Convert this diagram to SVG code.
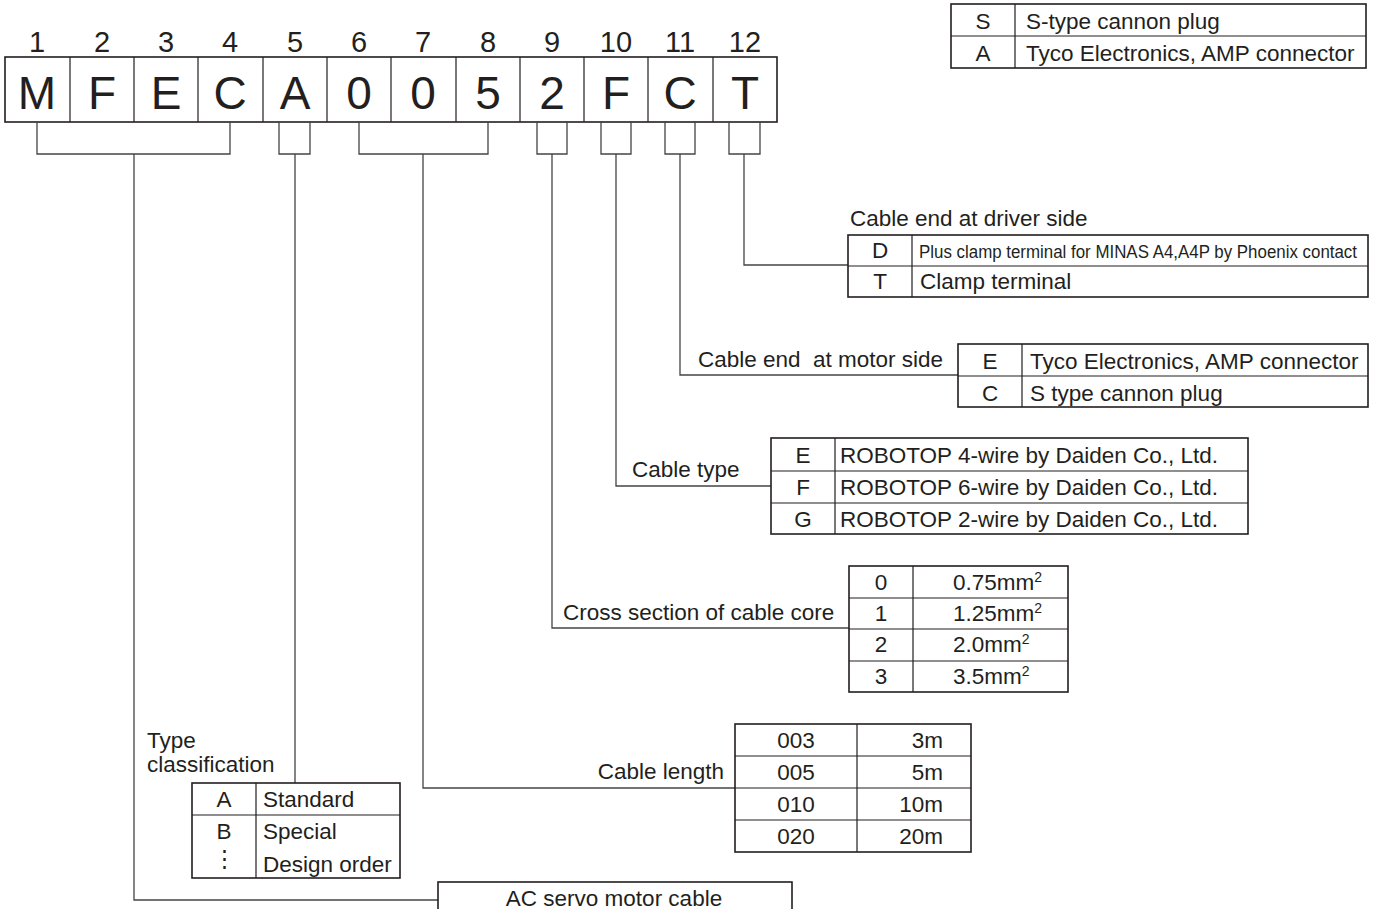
<svg xmlns="http://www.w3.org/2000/svg" width="1379" height="909" viewBox="0 0 1379 909">
<style>
text{font-family:"Liberation Sans",Arial,sans-serif;fill:#231f20}
.num{font-size:29px;text-anchor:middle}
.big{font-size:46px;text-anchor:middle}
.t{font-size:22.5px}
.c{text-anchor:middle}
.e{text-anchor:end}
.box{fill:#fff;stroke:#231f20;stroke-width:1.6}
.ln{fill:none;stroke:#231f20;stroke-width:1.2}
.cn{fill:none;stroke:#444;stroke-width:1.3}
</style>
<rect width="1379" height="909" fill="#fff"/>

<g id="code">
<rect class="box" x="5" y="57" width="772" height="65"/>
<path class="ln" d="M70 57V122M134 57V122M198 57V122M263 57V122M327 57V122M391 57V122M456 57V122M520 57V122M584 57V122M648 57V122M713 57V122"/>
<g class="num">
<text x="37" y="52">1</text><text x="102" y="52">2</text><text x="166" y="52">3</text><text x="230" y="52">4</text>
<text x="295" y="52">5</text><text x="359" y="52">6</text><text x="423" y="52">7</text><text x="488" y="52">8</text>
<text x="552" y="52">9</text><text x="616" y="52">10</text><text x="680" y="52">11</text><text x="745" y="52">12</text>
</g>
<g class="big">
<text x="37" y="109">M</text><text x="102" y="109">F</text><text x="166" y="109">E</text><text x="230" y="109">C</text>
<text x="295" y="109">A</text><text x="359" y="109">0</text><text x="423" y="109">0</text><text x="488" y="109">5</text>
<text x="552" y="109">2</text><text x="616" y="109">F</text><text x="680" y="109">C</text><text x="745" y="109">T</text>
</g>
</g>

<g id="connectors">
<path class="cn" d="M37 122V154H230V122M134 154V900H438"/>
<path class="cn" d="M279 122V154H310V122M295 154V783"/>
<path class="cn" d="M359 122V154H488V122M423 154V788H735"/>
<path class="cn" d="M537 122V154H567V122M552 154V628H849"/>
<path class="cn" d="M601 122V154H631V122M616 154V486H771"/>
<path class="cn" d="M665 122V154H695V122M680 154V375H958"/>
<path class="cn" d="M729 122V154H760V122M744 154V265H848"/>
</g>

<g id="connector-table">
<rect class="box" x="951" y="4" width="415" height="64"/>
<path class="ln" d="M951 36H1366M1015 4V68"/>
<text class="t c" x="983" y="29">S</text><text class="t" x="1026" y="29">S-type cannon plug</text>
<text class="t c" x="983" y="61">A</text><text class="t" x="1026" y="61">Tyco Electronics, AMP connector</text>
</g>

<g id="driver-side">
<text class="t" x="850" y="226">Cable end at driver side</text>
<rect class="box" x="848" y="235" width="520" height="62"/>
<path class="ln" d="M848 266H1368M912 235V297"/>
<text class="t c" x="880" y="258">D</text>
<text x="919" y="258" font-size="17.5" textLength="438" lengthAdjust="spacingAndGlyphs">Plus clamp terminal for MINAS A4,A4P by Phoenix contact</text>
<text class="t c" x="880" y="289">T</text><text class="t" x="920" y="289">Clamp terminal</text>
</g>

<g id="motor-side">
<text class="t" x="698" y="367" xml:space="preserve">Cable end  at motor side</text>
<rect class="box" x="958" y="344" width="410" height="63"/>
<path class="ln" d="M958 376H1368M1022 344V407"/>
<text class="t c" x="990" y="369">E</text><text class="t" x="1030" y="369">Tyco Electronics, AMP connector</text>
<text class="t c" x="990" y="401">C</text><text class="t" x="1030" y="401">S type cannon plug</text>
</g>

<g id="cable-type">
<text class="t" x="632" y="477">Cable type</text>
<rect class="box" x="771" y="438" width="477" height="96"/>
<path class="ln" d="M771 471H1248M771 503H1248M835 438V534"/>
<text class="t c" x="803" y="463">E</text><text class="t" x="840" y="463">ROBOTOP 4-wire by Daiden Co., Ltd.</text>
<text class="t c" x="803" y="495">F</text><text class="t" x="840" y="495">ROBOTOP 6-wire by Daiden Co., Ltd.</text>
<text class="t c" x="803" y="527">G</text><text class="t" x="840" y="527">ROBOTOP 2-wire by Daiden Co., Ltd.</text>
</g>

<g id="cross-section">
<text class="t" x="563" y="620">Cross section of cable core</text>
<rect class="box" x="849" y="566" width="219" height="126"/>
<path class="ln" d="M849 598H1068M849 629H1068M849 661H1068M913 566V692"/>
<text class="t c" x="881" y="590">0</text><text class="t" x="953" y="590">0.75mm<tspan font-size="14" dy="-8">2</tspan></text>
<text class="t c" x="881" y="621">1</text><text class="t" x="953" y="621">1.25mm<tspan font-size="14" dy="-8">2</tspan></text>
<text class="t c" x="881" y="652">2</text><text class="t" x="953" y="652">2.0mm<tspan font-size="14" dy="-8">2</tspan></text>
<text class="t c" x="881" y="684">3</text><text class="t" x="953" y="684">3.5mm<tspan font-size="14" dy="-8">2</tspan></text>
</g>

<g id="cable-length">
<text class="t e" x="724" y="779">Cable length</text>
<rect class="box" x="735" y="724" width="236" height="128"/>
<path class="ln" d="M735 756H971M735 788H971M735 820H971M857 724V852"/>
<text class="t c" x="796" y="748">003</text><text class="t e" x="943" y="748">3m</text>
<text class="t c" x="796" y="780">005</text><text class="t e" x="943" y="780">5m</text>
<text class="t c" x="796" y="812">010</text><text class="t e" x="943" y="812">10m</text>
<text class="t c" x="796" y="844">020</text><text class="t e" x="943" y="844">20m</text>
</g>

<g id="type-classification">
<text class="t" x="147" y="748">Type</text>
<text class="t" x="147" y="772">classification</text>
<rect class="box" x="192" y="783" width="208" height="95"/>
<path class="ln" d="M192 815H400M256 783V878"/>
<text class="t c" x="224" y="807">A</text><text class="t" x="263" y="807">Standard</text>
<text class="t c" x="224" y="839">B</text><text class="t" x="263" y="839">Special</text>
<text class="t c" x="224" y="866">⋮</text><text class="t" x="263" y="872">Design order</text>
</g>

<g id="product">
<rect class="box" x="438" y="882" width="354" height="40"/>
<text class="t c" x="614" y="906">AC servo motor cable</text>
</g>
</svg>
